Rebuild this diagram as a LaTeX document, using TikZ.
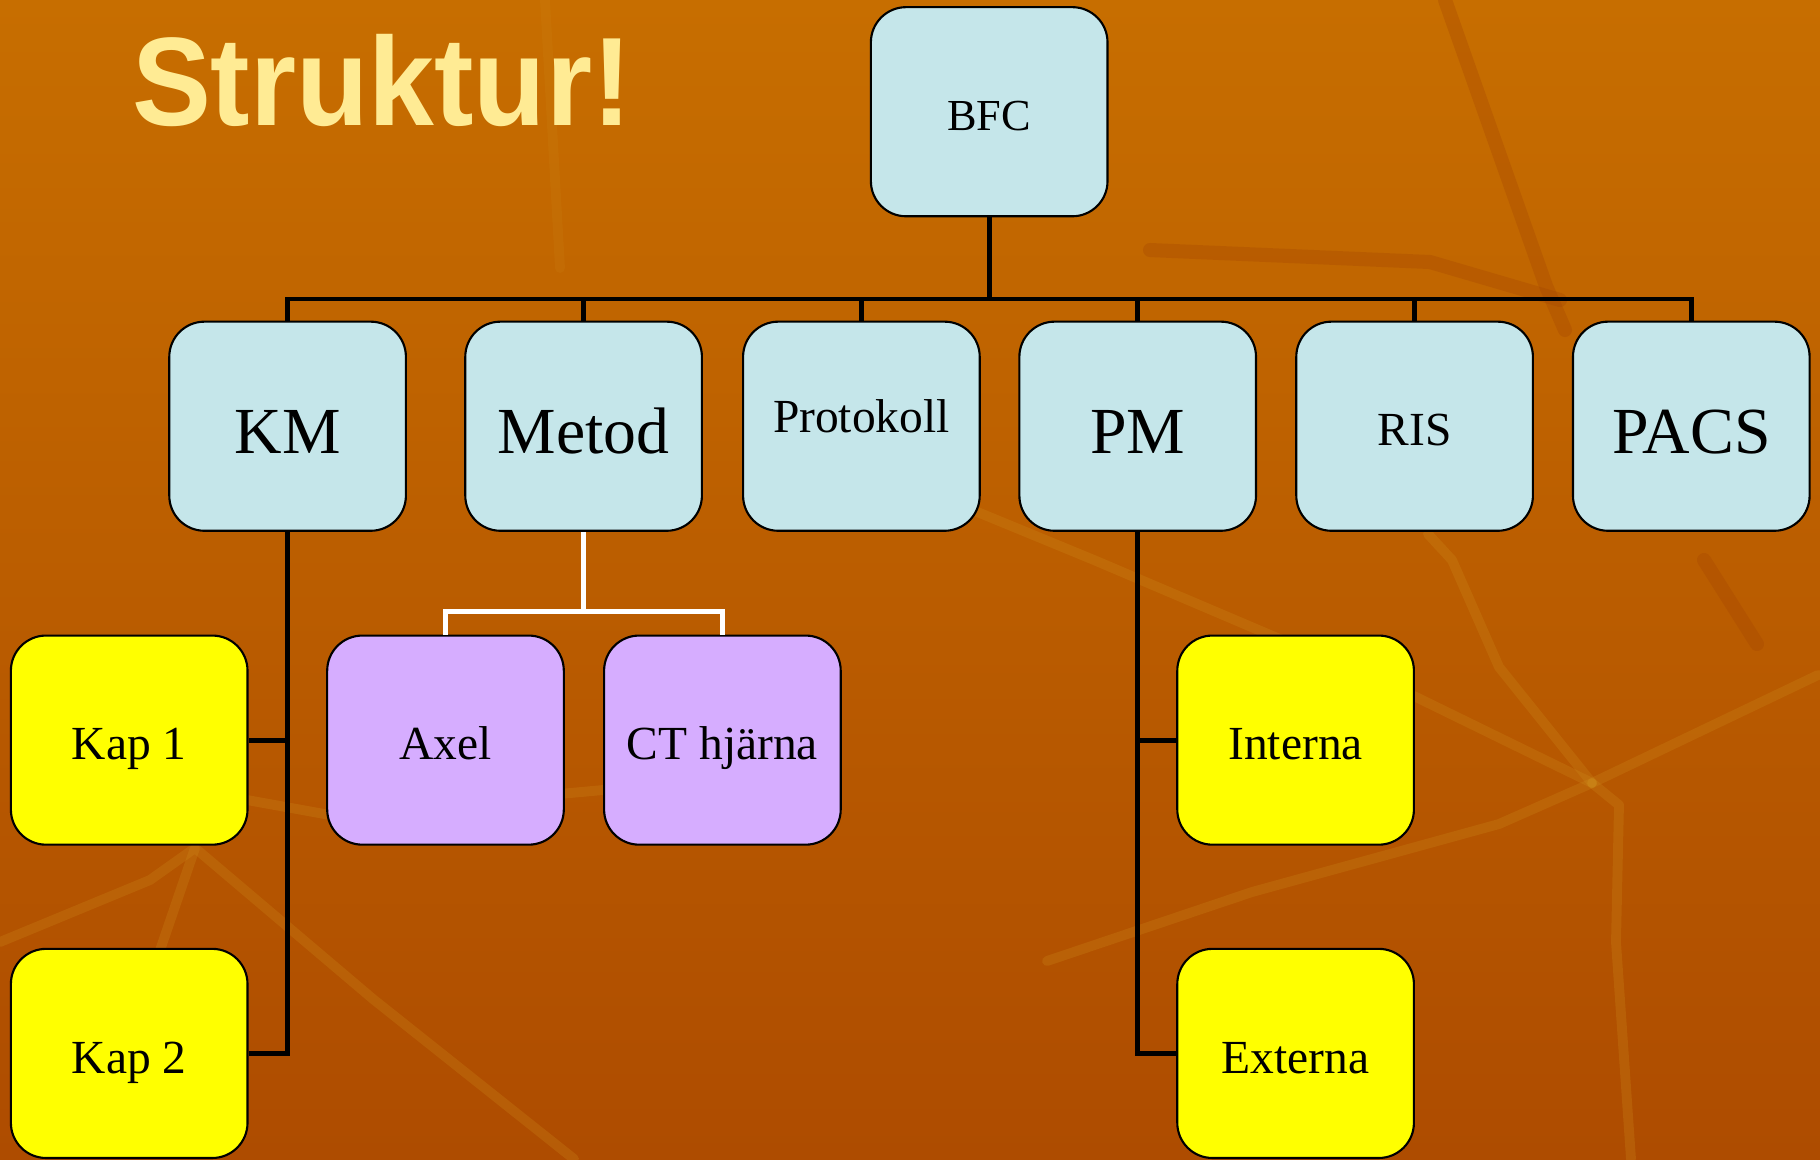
\documentclass[tikz,border=0pt]{standalone}
\usepackage{fontspec}
\setmainfont{Liberation Serif}
\newfontfamily\titelfont{Liberation Sans}
\definecolor{cBgTop}{HTML}{C76E00}
\definecolor{cBgBot}{HTML}{AE4C00}
\definecolor{cGren}{HTML}{CF8E1C}
\definecolor{cMork}{HTML}{A44400}
\definecolor{cBox}{HTML}{C5E6EA}
\definecolor{cGul}{HTML}{FFFF00}
\definecolor{cLila}{HTML}{D6ADFF}
\definecolor{cTitel}{HTML}{FFEB94}

\begin{document}
\begin{tikzpicture}[
    x=0.01cm, y=-0.01cm,
    box/.style={draw=black, line width=0.6pt, rounded corners=10pt,
                minimum width=2.365cm, minimum height=2.09cm, inner sep=0pt,
                align=center, text=black, text depth=0pt},
    bla/.style={box, fill=cBox},
    gul/.style={box, fill=cGul},
    lila/.style={box, fill=cLila},
    stor/.style={font=\fontsize{18.7}{22}\selectfont, text height=15.5pt},
    liten/.style={font=\fontsize{13.5}{16}\selectfont, text height=11.2pt},
    topp/.style={font=\fontsize{12.6}{15}\selectfont, text height=10.5pt},
    linje/.style={draw=black, line width=1.4pt},
    vitlinje/.style={draw=white, line width=1.3pt},
    gren/.style={draw=cGren, line width=2.8pt, line cap=round, line join=round, opacity=0.25},
    mork/.style={draw=cMork, line width=4pt, line cap=round, line join=round, opacity=0.3},
]
\useasboundingbox (0,0) rectangle (1820,1159);
\begin{scope}
\clip (0,0) rectangle (1820,1159);

% ===================== Bakgrund =====================
\shade[top color=cBgTop, bottom color=cBgBot] (0,0) rectangle (1820,1159);
% ljusa grenar
\draw[gren] (0,942) -- (150,880) -- (195,848) -- (373,999) -- (574,1159);
\draw[gren] (195,848) -- (143,1000);
\draw[gren] (247,800) -- (330,815) -- (603,790);
\draw[gren] (975,511) -- (1094,560) -- (1416,697) -- (1592,783);
\draw[gren] (1428,534) -- (1452,560) -- (1499,667) -- (1592,783);
\draw[gren] (1592,783) -- (1818,675);
\draw[gren] (1592,783) -- (1499,824) -- (1252,892) -- (1047,961);
\draw[gren] (1592,783) -- (1619,805) -- (1616,942) -- (1631,1159);
\draw[gren, opacity=0.15] (545,0) -- (560,268);
% mörka grenar
\draw[mork] (1704,560) -- (1757,644);
\draw[mork] (1445,0) -- (1546,286) -- (1565,330);
\draw[mork] (1150,250) -- (1430,262) -- (1560,300);
\end{scope}

% ===================== Rubrik =====================
\node[anchor=base west, inner sep=0pt, text=cTitel, xscale=0.94,
      font=\titelfont\bfseries\fontsize{35.8}{42}\selectfont] (rubrik) at (131.4,125.7) {Struktur!};

% ===================== Boxar =====================
\node[bla, topp] (bfc) at (989.2,111.7) {BFC};

\node[bla, stor]  (km)        at (287.6,426.2)  {KM};
\node[bla, stor]  (metod)     at (583.6,426.2)  {Metod};
\node[bla, liten, text depth=7.4pt] (protokoll) at (861.4,426.2) {Protokoll};
\node[bla, stor]  (pm)        at (1137.7,426.2) {PM};
\node[bla, liten] (ris)       at (1414.6,426.2) {RIS};
\node[bla, stor]  (pacs)      at (1691.3,426.2) {PACS};

\node[gul, liten]  (kap1)    at (129.2,740.1)  {Kap 1};
\node[gul, liten]  (kap2)    at (129.2,1053.4) {Kap 2};
\node[lila, liten] (axel)    at (445.5,740.1)  {Axel};
\node[lila, liten] (ct)      at (722.4,740.1)  {CT hjärna};
\node[gul, liten]  (interna) at (1295.6,740.1) {Interna};
\node[gul, liten]  (externa) at (1295.6,1053.4) {Externa};

% ===================== Linjer =====================
\coordinate (buss) at (0,299);
\coordinate (metodgren) at (0,611.6);

\draw[linje] (bfc.south) -- (bfc.south |- buss);
\draw[linje] (km.north) -- (km.north |- buss) -- (pacs.north |- buss) -- (pacs.north);
\foreach \n in {metod,protokoll,pm,ris}
    \draw[linje] (\n.north) -- (\n.north |- buss);

% KM: hängande grenar till vänster
\draw[linje] (km.south) -- (km.south |- kap2.east) -- (kap2.east);
\draw[linje] (km.south |- kap1.east) -- (kap1.east);

% PM: hängande grenar till höger
\draw[linje] (pm.south) -- (pm.south |- externa.west) -- (externa.west);
\draw[linje] (pm.south |- interna.west) -- (interna.west);

% Metod: vita linjer
\draw[vitlinje] (metod.south) -- (metod.south |- metodgren);
\draw[vitlinje] (axel.north) -- (axel.north |- metodgren) -- (ct.north |- metodgren) -- (ct.north);

\end{tikzpicture}
\end{document}
